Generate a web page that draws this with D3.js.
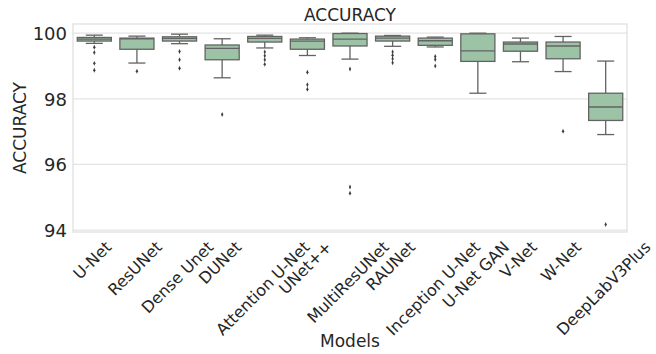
<!DOCTYPE html>
<html>
<head>
<meta charset="utf-8">
<script src="https://cdn.jsdelivr.net/npm/d3@7"></script>
<style>
  html, body { margin: 0; padding: 0; background: #ffffff; }
  svg { display: block; font-family: "DejaVu Sans", sans-serif; }
</style>
</head>
<body>
<svg id="chart" width="656" height="354"></svg>
<script>
// Model names along the x axis
const models = ["U-Net", "ResUNet", "Dense Unet", "DUNet", "Attention U-Net", "UNet++",
  "MultiResUNet", "RAUNet", "Inception U-Net", "U-Net GAN", "V-Net", "W-Net", "DeepLabV3Plus"];

// Box statistics per model (accuracy, %)
const whiskerLow  = [99.69, 99.09, 99.68, 98.64, 99.55, 99.32, 99.21, 99.60, 99.58, 98.17, 99.13, 98.83, 96.91];
const q1          = [99.76, 99.51, 99.76, 99.19, 99.73, 99.51, 99.61, 99.76, 99.63, 99.14, 99.45, 99.22, 97.34];
const medians     = [99.82, 99.83, 99.84, 99.54, 99.84, 99.76, 99.82, 99.85, 99.77, 99.46, 99.67, 99.61, 97.75];
const q3          = [99.87, 99.85, 99.89, 99.64, 99.90, 99.82, 99.99, 99.91, 99.85, 99.98, 99.73, 99.73, 98.17];
const whiskerHigh = [99.94, 99.91, 99.97, 99.83, 99.94, 99.86, 100.0, 99.93, 99.88, 100.0, 99.85, 99.90, 99.15];

// Points beyond the whiskers
const outliers = [
  [99.57, 99.41, 99.08, 98.87],
  [98.84],
  [99.44, 99.19, 98.93],
  [97.52],
  [99.43, 99.31, 99.19, 99.05],
  [98.81, 98.43, 98.29],
  [98.91, 95.31, 95.12],
  [99.43, 99.33, 99.22, 99.10],
  [99.29, 99.20, 99.00],
  [],
  [],
  [97.01],
  [94.17]
];

const yTicks = [94, 96, 98, 100];

const svg = d3.select("#chart");
const plotLeft = 73, plotRight = 627, plotTop = 24, plotBottom = 232;

const x = d3.scaleBand().domain(models).range([plotLeft, plotRight]).padding(0);
const y = d3.scaleLinear().domain([93.94, 100.28]).range([plotBottom, plotTop]);

const textColor = "#262626";
const gridColor = "#e4e4e4";
const boxFill = "#9dc3a6";
const lineColor = "#636363";

// Horizontal grid lines
svg.append("g").selectAll("line").data(yTicks).join("line")
  .attr("x1", plotLeft).attr("x2", plotRight)
  .attr("y1", d => y(d)).attr("y2", d => y(d))
  .attr("stroke", gridColor).attr("stroke-width", 1.3);

// Plot frame
svg.append("rect")
  .attr("x", plotLeft).attr("y", plotTop)
  .attr("width", plotRight - plotLeft).attr("height", plotBottom - plotTop)
  .attr("fill", "none").attr("stroke", "#e0e0e0").attr("stroke-width", 1.3);

// Y axis tick labels
const yAxis = d3.axisLeft(y).tickValues(yTicks).tickSize(0).tickPadding(6).tickFormat(d3.format("d"));
const yg = svg.append("g").attr("transform", `translate(${plotLeft},0)`).call(yAxis);
yg.select(".domain").remove();
yg.selectAll("text").attr("font-size", 18).attr("fill", textColor)
  .attr("font-family", "DejaVu Sans").attr("dy", "0.36em");

// Boxes
const bw = x.bandwidth() * 0.8;
const capW = bw / 2;
const g = svg.append("g");
models.forEach((m, i) => {
  const cx = x(m) + x.bandwidth() / 2;
  const grp = g.append("g");
  // whiskers
  grp.append("line").attr("x1", cx).attr("x2", cx)
    .attr("y1", y(q3[i])).attr("y2", y(whiskerHigh[i]))
    .attr("stroke", lineColor).attr("stroke-width", 1.3);
  grp.append("line").attr("x1", cx).attr("x2", cx)
    .attr("y1", y(q1[i])).attr("y2", y(whiskerLow[i]))
    .attr("stroke", lineColor).attr("stroke-width", 1.3);
  // caps
  [whiskerHigh[i], whiskerLow[i]].forEach(v => {
    grp.append("line").attr("x1", cx - capW / 2).attr("x2", cx + capW / 2)
      .attr("y1", y(v)).attr("y2", y(v))
      .attr("stroke", lineColor).attr("stroke-width", 1.3);
  });
  // box
  grp.append("rect")
    .attr("x", cx - bw / 2).attr("width", bw)
    .attr("y", y(q3[i])).attr("height", Math.max(0.5, y(q1[i]) - y(q3[i])))
    .attr("fill", boxFill).attr("stroke", lineColor).attr("stroke-width", 1.3);
  // median
  grp.append("line").attr("x1", cx - bw / 2).attr("x2", cx + bw / 2)
    .attr("y1", y(medians[i])).attr("y2", y(medians[i]))
    .attr("stroke", lineColor).attr("stroke-width", 1.3);
  // fliers
  grp.selectAll("path.flier").data(outliers[i]).join("path")
    .attr("class", "flier")
    .attr("d", d3.symbol(d3.symbolDiamond, 7))
    .attr("transform", d => `translate(${cx},${y(d)}) scale(0.8,1)`)
    .attr("fill", "#3d3d3d");
});

// X tick labels, rotated 45 degrees and centred under each tick
const xl = svg.append("g");
const fs = 16;
models.forEach(m => {
  const cx = x(m) + x.bandwidth() / 2;
  const t = xl.append("text").text(m)
    .attr("font-size", fs).attr("fill", textColor)
    .attr("text-anchor", "middle").attr("dominant-baseline", "central");
  const L = t.node().getComputedTextLength();
  const ext = (L + fs * 1.1) / Math.SQRT2;
  const cy = 238 + ext / 2;
  t.attr("transform", `translate(${cx - 2},${cy}) rotate(-45)`);
});

// Title and axis titles
svg.append("text").attr("x", (plotLeft + plotRight) / 2).attr("y", 20.5)
  .attr("text-anchor", "middle").attr("font-size", 17).attr("fill", textColor)
  .text("ACCURACY");
svg.append("text").attr("transform", `translate(26,${(plotTop + plotBottom) / 2}) rotate(-90)`)
  .attr("text-anchor", "middle").attr("font-size", 17).attr("fill", textColor)
  .text("ACCURACY");
svg.append("text").attr("x", (plotLeft + plotRight) / 2).attr("y", 347)
  .attr("text-anchor", "middle").attr("font-size", 17).attr("fill", textColor)
  .text("Models");
</script>
</body>
</html>
